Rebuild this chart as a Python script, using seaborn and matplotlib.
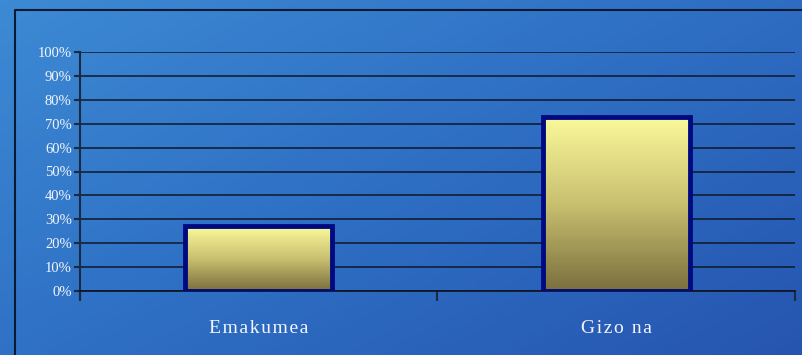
import numpy as np
import pandas as pd
import matplotlib
matplotlib.use("Agg")
import matplotlib.pyplot as plt
import matplotlib.colors as mcolors
import seaborn as sns

# data
categories = ["Emakumea", "Gizo na"]
shares = [27, 73]
yticks = [0, 10, 20, 30, 40, 50, 60, 70, 80, 90, 100]

df = pd.DataFrame({"group": categories, "share": shares})

sns.set_theme(style="white")
plt.rcParams["font.family"] = ["Liberation Serif", "DejaVu Serif"]

fig = plt.figure(figsize=(8.03, 3.55), dpi=100)

# blue background gradient over the whole figure
bg = fig.add_axes([0, 0, 1, 1], zorder=-10)
xx, yy = np.meshgrid(np.linspace(0, 1, 200), np.linspace(0, 1, 100))
t = 0.55 * xx + 0.45 * yy
bg_cmap = mcolors.LinearSegmentedColormap.from_list("bg", ["#3d8ad4", "#2e6fc4", "#2655b0"])
bg.imshow(t, cmap=bg_cmap, aspect="auto", extent=[0, 1, 0, 1], origin="upper")
bg.set_axis_off()
# outer frame
bg.plot([15 / 803, 15 / 803, 1.0], [0, 1 - 10 / 355, 1 - 10 / 355], color="#0a1a30", lw=1.5)
bg.set_xlim(0, 1)
bg.set_ylim(0, 1)

ax = fig.add_axes([80 / 803, 1 - 291 / 355, 715 / 803, 239 / 355])
ax.patch.set_alpha(0)

sns.barplot(data=df, x="group", y="share", ax=ax, width=0.41,
            color="#e0dc80", edgecolor="#000a80", linewidth=3.5, zorder=3)

# yellow gradient inside the bars
bar_cmap = mcolors.LinearSegmentedColormap.from_list("bar", ["#7a6f3e", "#c9c070", "#fbfa9c"])
grad = np.linspace(0, 1, 256).reshape(-1, 1)
for p in ax.patches:
    x0, y0 = p.get_x(), p.get_y()
    w, h = p.get_width(), p.get_height()
    im = ax.imshow(grad, cmap=bar_cmap, aspect="auto", origin="lower",
                   extent=[x0, x0 + w, y0, y0 + h], zorder=3)
    im.set_clip_path(p)
    p.set_facecolor("none")
    p.set_zorder(4)

ax.set_xlim(-0.5, 1.5)
ax.set_ylim(0, 100)
ax.set_yticks(yticks)
ax.set_yticklabels([f"{v}%" for v in yticks], color="#f4f6fb", fontsize=10.5)
ax.yaxis.grid(True, color="#101828", lw=1.1, zorder=0)
ax.set_axisbelow(True)
ax.set_xticks([0, 1])
# letter-spaced category labels (hair spaces between letters)
ax.set_xticklabels(["\u200a".join(c) for c in categories], color="#f4f6fb", fontsize=14)
ax.tick_params(axis="x", length=0, pad=21)
ax.tick_params(axis="y", left=True, length=4, width=1.5, color="#1a2a40", pad=2)
ax.set_xticks([-0.5, 0.5, 1.5], minor=True)
ax.tick_params(axis="x", which="minor", bottom=True, length=7, width=1.5, color="#1a2a40")
ax.set_xlabel("")
ax.set_ylabel("")
for s in ["top", "right"]:
    ax.spines[s].set_visible(False)
ax.spines["left"].set_color("#1a2a40")
ax.spines["left"].set_linewidth(1.5)
ax.spines["left"].set_bounds(-3, 100)
ax.spines["bottom"].set_color("#101828")
ax.spines["bottom"].set_linewidth(1.3)

fig.savefig("out.png", dpi=100)
